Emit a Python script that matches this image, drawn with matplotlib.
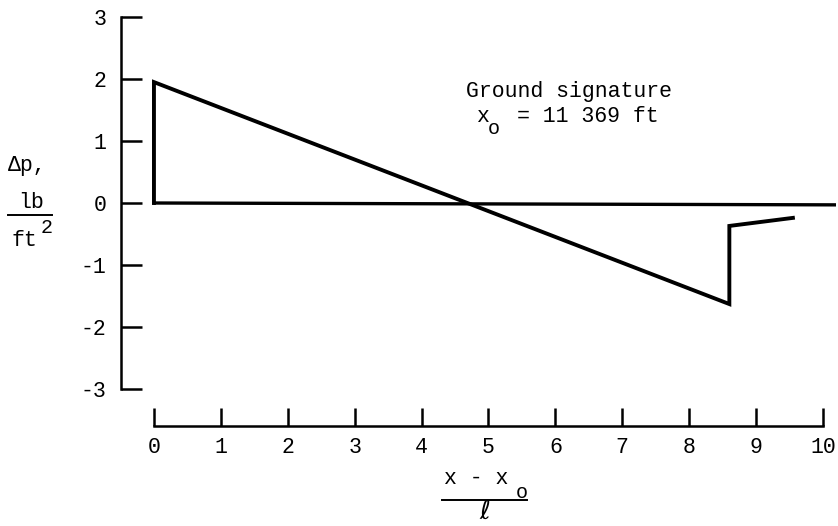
import matplotlib
matplotlib.use("Agg")
import matplotlib.pyplot as plt
from matplotlib.lines import Line2D

# Ground signature of the N-wave (normalized distance vs overpressure)
sig_x = [0.0, 0.0, 8.6, 8.6, 9.55]
sig_y = [0.0, 1.95, -1.63, -0.37, -0.24]
base_x = [0.0, 10.2]
base_y = [0.0, -0.03]

x_ticks = list(range(0, 11))
y_ticks = [-3, -2, -1, 0, 1, 2, 3]

W, H = 838, 526
FONT = ["Liberation Mono", "DejaVu Sans Mono", "DejaVu Sans"]
plt.rcParams["font.family"] = FONT
FS = 15.5

fig = plt.figure(figsize=(W / 100, H / 100), dpi=100)

# axes placement in pixels
ax_left, ax_right = 120.5, 836.4
ax_top, ax_bottom = 10.8, 426.2
ax = fig.add_axes([ax_left / W, 1 - ax_bottom / H,
                   (ax_right - ax_left) / W, (ax_bottom - ax_top) / H])
ax.set_xlim(-0.5, 10.2)
ax.set_ylim(-3.6, 3.1)

ax.plot(base_x, base_y, color="black", lw=2.4, solid_capstyle="butt")
ax.plot(sig_x, sig_y, color="black", lw=2.8, solid_joinstyle="miter")

for s in ("top", "right"):
    ax.spines[s].set_visible(False)
ax.spines["left"].set_bounds(-3, 3)
ax.spines["bottom"].set_bounds(0, 10)
ax.spines["left"].set_linewidth(1.8)
ax.spines["bottom"].set_linewidth(1.8)

ax.set_xticks(x_ticks)
ax.set_yticks(y_ticks)
ax.set_xticklabels([str(v) for v in x_ticks])
ax.set_yticklabels([str(v) for v in y_ticks])
ax.tick_params(axis="both", direction="in", width=1.8, labelsize=FS)
ax.tick_params(axis="y", length=15, pad=10)
ax.tick_params(axis="x", length=13, pad=8)


def px(x, y):
    return x / W, 1 - y / H


def txt(x, y, s, **kw):
    kw.setdefault("fontsize", FS)
    kw.setdefault("ha", "center")
    kw.setdefault("va", "center")
    fig.text(*px(x, y), s, **kw)


def hline(x0, x1, y, lw=1.4):
    (a, b), (c, d) = px(x0, y), px(x1, y)
    fig.add_artist(Line2D([a, c], [b, d], color="black", lw=lw,
                          transform=fig.transFigure))


# y-axis label: Δp, lb/ft^2
txt(27, 166, "Δp,")
txt(31, 202, "lb")
hline(8, 52, 215)
txt(24, 240, "ft")
txt(47, 227, "2", fontsize=FS - 1)

# x-axis label: (x - x_o) / ℓ
txt(476, 478, "x - x")
txt(522, 492, "o", fontsize=FS - 1)
hline(442, 527, 500)
txt(485, 512, "ℓ", fontsize=19, family=["DejaVu Sans"])

# annotation
txt(569, 91, "Ground signature")
txt(482, 116, "x")
txt(494, 129, "o", fontsize=FS - 1)
txt(517, 116, "= 11 369 ft", ha="left")

fig.savefig("out.png", dpi=100)
